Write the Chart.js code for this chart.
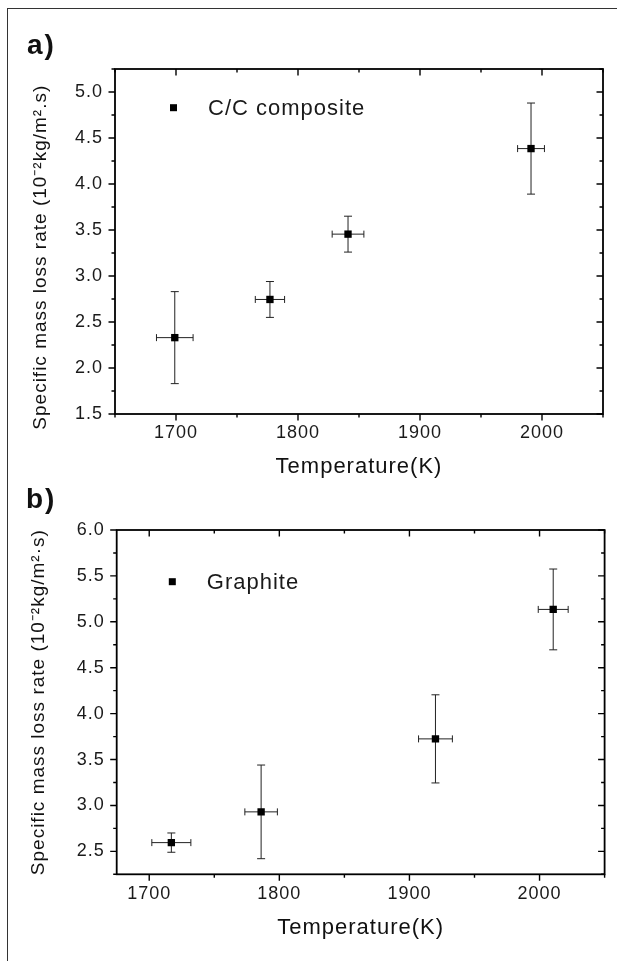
<!DOCTYPE html>
<html>
<head>
<meta charset="utf-8">
<script src="https://cdn.jsdelivr.net/npm/chart.js@4.4.1/dist/chart.umd.min.js"></script>
<style>
    body { margin: 0; background: #fff; }
    #wrap { position: relative; width: 617px; height: 961px; overflow: hidden; font-family: "Liberation Sans", Arial, sans-serif; }
    #frame { position: absolute; left: 7px; top: 8px; width: 700px; height: 1000px; border-top: 1px solid #333; border-left: 1px solid #333; }
    canvas { position: absolute; left: 0; }
    .lbl { position: absolute; font-weight: bold; font-size: 28px; line-height: 28px; letter-spacing: 2px; color: #111; }
</style>
</head>
<body>
<div id="wrap">
    <div id="frame"></div>
    <canvas id="chartA" width="617" height="480" style="top:0"></canvas>
    <canvas id="chartB" width="617" height="481" style="top:480px"></canvas>
    <div class="lbl" style="left:27px; top:31px">a)</div>
    <div class="lbl" style="left:26px; top:485px">b)</div>
</div>
<script>
// panel a) - C/C composite
const tempA = [1699, 1777, 1841, 1991];
const tempErrA = [15, 12, 13, 11];
const rateA = [2.33, 2.745, 3.455, 4.385];
const rateErrA = [0.5, 0.195, 0.195, 0.495];

// panel b) - graphite
const tempB = [1717, 1786, 1920, 2010.5];
const tempErrB = [15, 12.5, 13, 11.5];
const rateB = [2.595, 2.93, 3.725, 5.135];
const rateErrB = [0.105, 0.51, 0.48, 0.44];

// tick labels
const xTicks = [1700, 1800, 1900, 2000];
const yTicksA = [1.5, 2.0, 2.5, 3.0, 3.5, 4.0, 4.5, 5.0];
const yTicksB = [2.5, 3.0, 3.5, 4.0, 4.5, 5.0, 5.5, 6.0];

const FONT = '"Liberation Sans", Arial, sans-serif';

// error bars in x and y
const errorBars = {
    id: 'errorBars',
    beforeDatasetsDraw(chart, args, opts) {
        const ctx = chart.ctx, x = chart.scales.x, y = chart.scales.y;
        const pts = chart.data.datasets[0].data;
        ctx.save();
        ctx.strokeStyle = '#222';
        ctx.lineWidth = 1;
        ctx.beginPath();
        pts.forEach(function(p, i) {
            const px = x.getPixelForValue(p.x), py = y.getPixelForValue(p.y);
            const x0 = x.getPixelForValue(p.x - opts.xErr[i]), x1 = x.getPixelForValue(p.x + opts.xErr[i]);
            const y0 = y.getPixelForValue(p.y - opts.yErr[i]), y1 = y.getPixelForValue(p.y + opts.yErr[i]);
            ctx.moveTo(x0, py); ctx.lineTo(x1, py);
            ctx.moveTo(x0, py - 3.5); ctx.lineTo(x0, py + 3.5);
            ctx.moveTo(x1, py - 3.5); ctx.lineTo(x1, py + 3.5);
            ctx.moveTo(px, y0); ctx.lineTo(px, y1);
            ctx.moveTo(px - 4, y0); ctx.lineTo(px + 4, y0);
            ctx.moveTo(px - 4, y1); ctx.lineTo(px + 4, y1);
        });
        ctx.stroke();
        ctx.restore();
    }
};

// box, major/minor ticks (out on left/bottom, in on top/right) and the legend
const frameTicks = {
    id: 'frameTicks',
    beforeDraw(chart) {
        chart.ctx.letterSpacing = '1px';
    },
    afterDraw(chart, args, opts) {
        const ctx = chart.ctx, a = chart.chartArea;
        const x = chart.scales.x, y = chart.scales.y;
        ctx.save();
        ctx.strokeStyle = '#000';
        ctx.lineWidth = 1.8;
        ctx.strokeRect(a.left, a.top, a.right - a.left, a.bottom - a.top);
        ctx.lineWidth = 1.4;
        ctx.beginPath();
        const xs = x.ticks.map(t => t.value);
        const xStep = xs[1] - xs[0];
        for (let v = xs[0] - xStep; v <= x.max + 0.01; v += xStep / 2) {
            if (v < x.min - 0.01) continue;
            const len = (Math.abs((v - xs[0]) % xStep) < 0.01) ? 6.5 : 3.5;
            const px = x.getPixelForValue(v);
            ctx.moveTo(px, a.bottom); ctx.lineTo(px, a.bottom + len);
            ctx.moveTo(px, a.top); ctx.lineTo(px, a.top + len);
        }
        const ys = y.ticks.map(t => t.value);
        const yStep = ys[1] - ys[0];
        for (let v = ys[0] - yStep; v <= y.max + 0.001; v += yStep / 2) {
            if (v < y.min - 0.001) continue;
            const r = Math.abs(((v - ys[0]) / yStep) - Math.round((v - ys[0]) / yStep));
            const len = r < 0.01 ? 6.5 : 3.5;
            const py = y.getPixelForValue(v);
            ctx.moveTo(a.left, py); ctx.lineTo(a.left - len, py);
            ctx.moveTo(a.right, py); ctx.lineTo(a.right - len, py);
        }
        ctx.stroke();

        // legend
        const mx = a.left + opts.dx, my = a.top + opts.dy;
        ctx.fillStyle = '#000';
        ctx.fillRect(mx - 3.5, my - 3.5, 7, 7);
        ctx.letterSpacing = '1px';
        ctx.font = '22px ' + FONT;
        ctx.textBaseline = 'middle';
        ctx.textAlign = 'left';
        ctx.fillStyle = '#1a1a1a';
        ctx.fillText(opts.label, mx + 34.5, my + 1);
        ctx.restore();
    }
};

function makePanel(id, cfg) {
    return new Chart(document.getElementById(id), {
        type: 'scatter',
        data: {
            datasets: [{
                label: cfg.label,
                data: cfg.temp.map((t, i) => ({ x: t, y: cfg.rate[i] })),
                pointStyle: 'rect',
                pointRadius: 5.2,
                pointHoverRadius: 5.2,
                backgroundColor: '#000',
                borderColor: '#000',
                borderWidth: 0
            }]
        },
        options: {
            responsive: false,
            animation: false,
            events: [],
            layout: { padding: cfg.padding },
            scales: {
                x: {
                    type: 'linear',
                    min: cfg.xMin,
                    max: 2050,
                    grid: { display: false, drawTicks: false },
                    border: { display: false },
                    afterBuildTicks: s => { s.ticks = xTicks.map(v => ({ value: v })); },
                    afterFit: s => { s.height = cfg.xHeight; },
                    ticks: {
                        autoSkip: false,
                        maxRotation: 0,
                        padding: 8.5,
                        color: '#1a1a1a',
                        font: { family: FONT, size: 18 },
                        callback: v => String(v)
                    },
                    title: {
                        display: true,
                        text: 'Temperature(K)',
                        color: '#111',
                        font: { family: FONT, size: 22 },
                        padding: { top: 0, bottom: 0 }
                    }
                },
                y: {
                    type: 'linear',
                    min: cfg.yMin,
                    max: cfg.yMax,
                    grid: { display: false, drawTicks: false },
                    border: { display: false },
                    afterBuildTicks: s => { s.ticks = cfg.yTicks.map(v => ({ value: v })); },
                    afterFit: s => { s.width = cfg.yWidth; },
                    ticks: {
                        autoSkip: false,
                        padding: 12,
                        color: '#1a1a1a',
                        font: { family: FONT, size: 18 },
                        callback: v => v.toFixed(1)
                    },
                    title: {
                        display: true,
                        text: cfg.yTitle,
                        color: '#111',
                        font: { family: FONT, size: 19 },
                        padding: { top: cfg.yTitlePad, bottom: 0 }
                    }
                }
            },
            plugins: {
                legend: { display: false },
                tooltip: { enabled: false },
                errorBars: { xErr: cfg.tempErr, yErr: cfg.rateErr },
                frameTicks: { label: cfg.label, dx: cfg.legendDx, dy: cfg.legendDy }
            }
        },
        plugins: [errorBars, frameTicks]
    });
}

makePanel('chartA', {
    label: 'C/C composite',
    temp: tempA, tempErr: tempErrA, rate: rateA, rateErr: rateErrA,
    xMin: 1650, yMin: 1.5, yMax: 5.25, yTicks: yTicksA,
    // trailing spaces push the title a little lower, as in the original
    yTitle: 'Specific mass loss rate (10\u207B\u00B2kg/m\u00B2.s)     ',
    padding: { top: 69, right: 14, bottom: 0, left: 0 },
    xHeight: 66, yWidth: 115, yTitlePad: 29.5,
    legendDx: 58.5, legendDy: 38.7
});

makePanel('chartB', {
    label: 'Graphite',
    temp: tempB, tempErr: tempErrB, rate: rateB, rateErr: rateErrB,
    xMin: 1675, yMin: 2.25, yMax: 6.0, yTicks: yTicksB,
    yTitle: 'Specific mass loss rate (10\u207B\u00B2kg/m\u00B2\u00B7s)',
    padding: { top: 50, right: 12.4, bottom: 20, left: 0 },
    xHeight: 66.7, yWidth: 116.7, yTitlePad: 27.6,
    legendDx: 55.6, legendDy: 51.7
});
</script>
</body>
</html>
